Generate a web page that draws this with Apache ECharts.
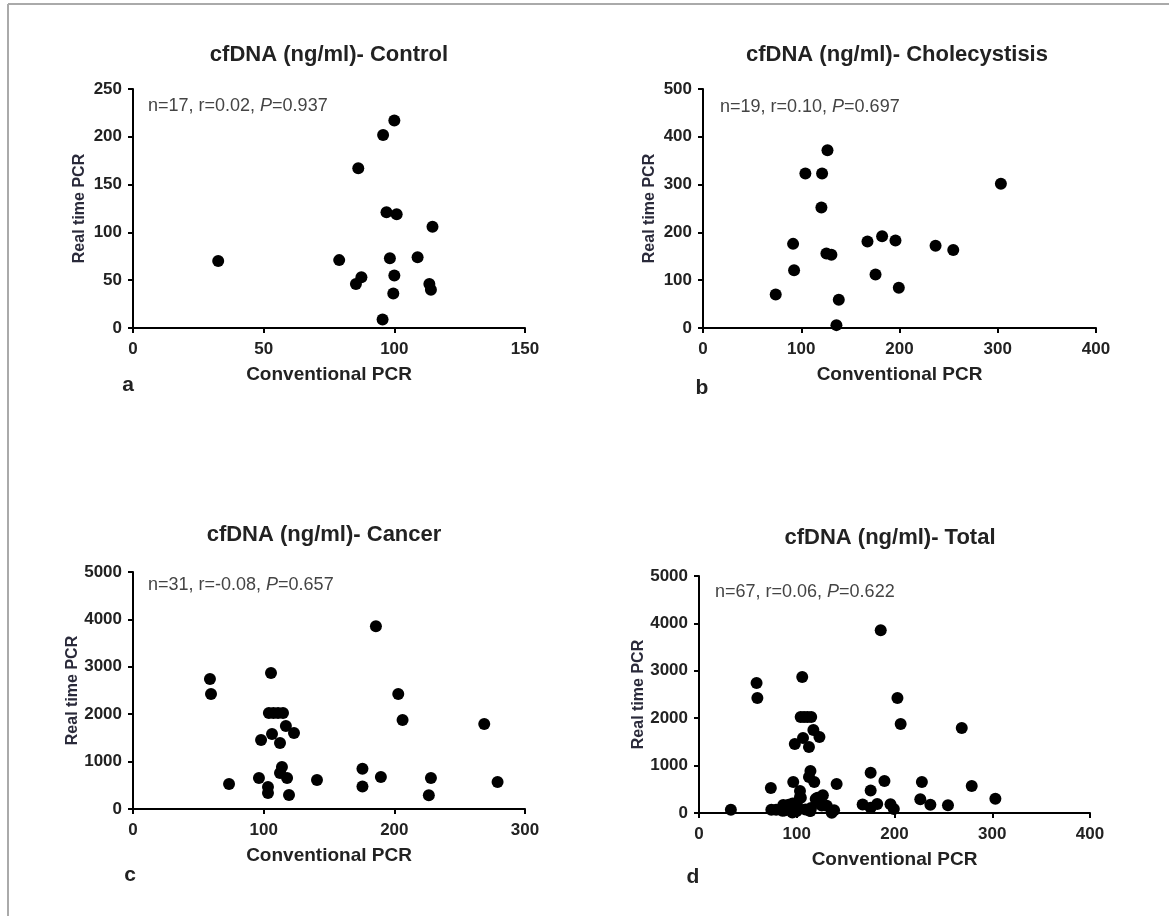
<!DOCTYPE html>
<html>
<head>
<meta charset="utf-8">
<title>cfDNA Conventional vs Real time PCR</title>
<script src="https://cdn.jsdelivr.net/npm/echarts@6/dist/echarts.min.js"></script>
<style>
	html, body { margin: 0; padding: 0; background: #fff; }
	#chart { width: 1169px; height: 916px; }
</style>
</head>
<body>
<div id="chart"></div>
<script>
// values (conventional PCR on x, real time PCR on y)
var controlConv = [32.6, 78.9, 86.2, 85.3, 87.4, 95.7, 100, 97, 100.9, 98.3, 100, 99.6, 95.5, 108.9, 114.6, 113.4, 114];
var controlReal = [70, 71, 167, 46, 53, 202, 217, 121, 119, 73, 55, 36, 9, 74, 106, 46, 40];

var cholConv = [74, 91.7, 92.7, 104.2, 121.2, 120.5, 126.7, 125.6, 130.7, 138.2, 135.8, 167.4, 182.3, 175.6, 195.9, 199.3, 236.7, 254.7, 303.2];
var cholReal = [70, 176, 121, 323, 323, 252, 372, 156, 153, 59, 6, 181, 192, 112, 183, 84, 172, 163, 302];

var cancerConv = [58.9, 59.7, 105.6, 104, 107.5, 111, 114.8, 117, 123.2, 106.4, 112.5, 98, 114, 112.5, 117.9, 96.4, 103.3, 103.3, 119.4, 73.5, 140.8,
	175.6, 175.6, 185.9, 189.7, 203, 206.3, 226.4, 228, 268.8, 279];
var cancerReal = [2743, 2427, 2870, 2025, 2025, 2025, 2025, 1751, 1603, 1582, 1392, 1456, 886, 760, 654, 654, 464, 338, 295, 527, 612,
	849, 477, 3857, 673, 2427, 1880, 288, 652, 1795, 568];

// axis ranges and tick steps per panel
var xMax = [150, 400, 300, 400];
var xStep = [50, 100, 100, 100];
var yMax = [250, 500, 5000, 5000];
var yStep = [50, 100, 1000, 1000];

var panelTitles = ['cfDNA (ng/ml)- Control', 'cfDNA (ng/ml)- Cholecystisis', 'cfDNA (ng/ml)- Cancer', 'cfDNA (ng/ml)- Total'];
var statN = ['17', '19', '31', '67'];
var statR = ['0.02', '0.10', '-0.08', '0.06'];
var statP = ['0.937', '0.697', '0.657', '0.622'];
var panelLetters = ['a', 'b', 'c', 'd'];

var FONT = 'Liberation Sans, Arial, sans-serif';

// plot areas in pixels
var grids = [
	{ left: 133, top: 89, width: 392, height: 239 },
	{ left: 703, top: 89, width: 393, height: 239 },
	{ left: 133, top: 572, width: 392, height: 237 },
	{ left: 699, top: 576, width: 391, height: 237 }
];

function zip(xs, ys) {
	var out = [];
	for (var i = 0; i < xs.length; i++) {
		out.push([xs[i], ys[i]]);
	}
	return out;
}

var panelData = [
	zip(controlConv, controlReal),
	zip(cholConv, cholReal),
	zip(cancerConv, cancerReal)
];
// total = all three groups together
panelData.push(panelData[0].concat(panelData[1], panelData[2]));

function makeAxis(i, dim, max, step, name) {
	var ax = {
		type: 'value',
		gridIndex: i,
		min: 0,
		max: max,
		interval: step,
		name: name,
		nameLocation: 'middle',
		splitLine: { show: false },
		axisLine: { show: true, onZero: false, lineStyle: { color: '#000', width: 2 } },
		axisTick: { show: true, inside: false, length: 5, lineStyle: { color: '#000', width: 2 } },
		axisLabel: {
			color: '#222', fontFamily: FONT, fontWeight: 'bold', fontSize: 17,
			formatter: function(v) { return String(v); } // no thousands separator
		}
	};
	if (dim == 'x') {
		ax.nameGap = 37;
		ax.axisLabel.margin = 13;
		ax.nameTextStyle = { color: '#222', fontFamily: FONT, fontWeight: 'bold', fontSize: 19 };
	} else {
		ax.nameGap = 45;
		ax.axisLabel.margin = 11;
		ax.nameTextStyle = { color: '#2a2a3a', fontFamily: FONT, fontWeight: 'bold', fontSize: 16 };
	}
	return ax;
}

var option = {
	backgroundColor: '#fff',
	animation: false,
	grid: [],
	xAxis: [],
	yAxis: [],
	series: [],
	graphic: []
};

// positions of the extra texts
var titlePos = [[329, 55], [897, 55], [324, 535], [890, 538]];
var statPos = [[148, 106], [720, 107], [148, 585], [715, 592]];
var letterPos = [[128, 385], [702, 388], [130, 875], [693, 877]];

for (var i = 0; i < 4; i++) {
	option.grid.push(grids[i]);
	option.xAxis.push(makeAxis(i, 'x', xMax[i], xStep[i], 'Conventional PCR'));
	option.yAxis.push(makeAxis(i, 'y', yMax[i], yStep[i], 'Real time PCR'));
	option.series.push({
		type: 'scatter',
		xAxisIndex: i,
		yAxisIndex: i,
		symbol: 'circle',
		symbolSize: 12,
		itemStyle: { color: '#000', opacity: 1 },
		data: panelData[i]
	});

	option.graphic.push({
		type: 'text',
		x: titlePos[i][0],
		y: titlePos[i][1],
		style: {
			text: panelTitles[i],
			fill: '#222',
			font: 'bold 22px ' + FONT,
			textAlign: 'center',
			textVerticalAlign: 'middle'
		}
	});
	option.graphic.push({
		type: 'text',
		x: statPos[i][0],
		y: statPos[i][1],
		style: {
			text: '{a|n=' + statN[i] + ', r=' + statR[i] + ', }{p|P}{a|=' + statP[i] + '}',
			rich: {
				a: { fill: '#444', font: '18px ' + FONT },
				p: { fill: '#444', font: 'italic 18px ' + FONT }
			},
			textAlign: 'left',
			textVerticalAlign: 'middle'
		}
	});
	option.graphic.push({
		type: 'text',
		x: letterPos[i][0],
		y: letterPos[i][1],
		style: {
			text: panelLetters[i],
			fill: '#222',
			font: 'bold 21px ' + FONT,
			textAlign: 'center',
			textVerticalAlign: 'middle'
		}
	});
}

// thin frame on the top and left edges
option.graphic.push({
	type: 'line',
	shape: { x1: 8, y1: 4, x2: 1169, y2: 4 },
	style: { stroke: '#aaa', lineWidth: 2 }
});
option.graphic.push({
	type: 'line',
	shape: { x1: 8, y1: 4, x2: 8, y2: 916 },
	style: { stroke: '#aaa', lineWidth: 2 }
});

var chart = echarts.init(document.getElementById('chart'));
chart.setOption(option);
</script>
</body>
</html>
